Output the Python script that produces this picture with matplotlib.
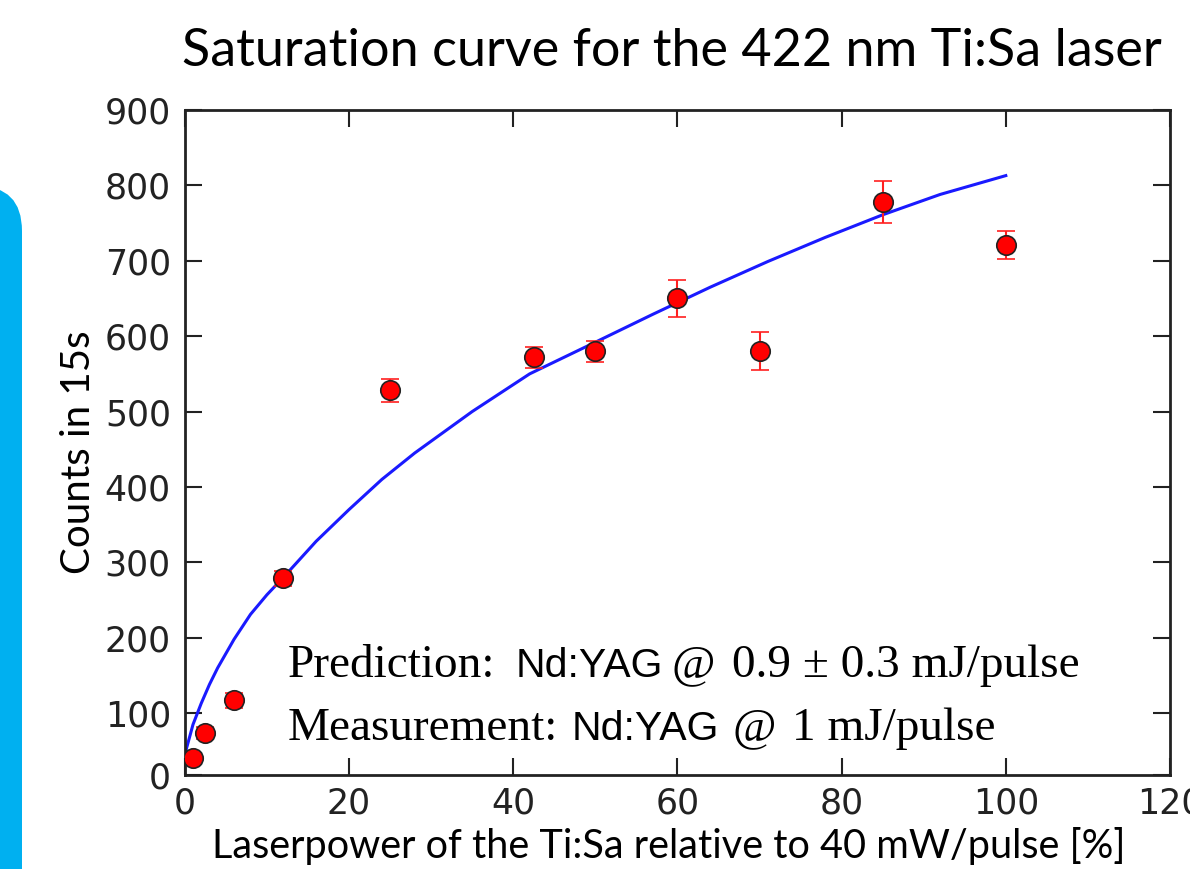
import matplotlib
matplotlib.use("Agg")
import matplotlib.pyplot as plt
from matplotlib.patches import FancyBboxPatch
from matplotlib.transforms import IdentityTransform

# measured points
power = [1, 2.4, 6, 12, 25, 42.5, 50, 60, 70, 85, 100]
counts = [41, 74, 117, 279, 528, 572, 580, 650, 580, 778, 721]
count_err = [6, 8, 10, 10, 15, 14, 14, 25, 25, 28, 19]

# fitted saturation curve
fit_x = [0, 1, 2, 3, 4, 6, 8, 10, 12, 16, 20, 24, 28, 35, 42, 50, 57, 64, 71, 78, 85, 92, 100]
fit_y = [45, 85, 113, 138, 160, 198, 231, 257, 280, 328, 370, 410, 445, 500, 550, 592, 629, 665, 699, 731, 761, 788, 813]

y_ticks = [18, 100, 200, 300, 400, 500, 600, 700, 800, 900]
y_ticklabels = ['0', '100', '200', '300', '400', '500', '600', '700', '800', '900']
x_ticks = [0, 20, 40, 60, 80, 100, 120]

fig = plt.figure(figsize=(11.9, 8.69), dpi=100)
ax = fig.add_axes([0.1553, 0.1082, 0.8279, 0.7652])

ax.plot(fit_x, fit_y, color='#1a1aff', lw=2.2, zorder=2)
ax.errorbar(power, counts, yerr=count_err, fmt='o', color='red', ecolor='#ff2020',
            elinewidth=1.5, capsize=6.5, capthick=1.5, markersize=14,
            markeredgecolor='#222222', markeredgewidth=1.2, zorder=3)

ax.set_xlim(0, 120)
ax.set_ylim(18, 900)
ax.set_xticks(x_ticks)
ax.set_yticks(y_ticks)
ax.set_yticklabels(y_ticklabels)
ax.tick_params(direction='in', top=True, right=True, length=12, width=1.5,
               labelsize=25, colors='#222222', labelcolor='#222222')
ax.tick_params(axis='y', pad=10)
ax.tick_params(axis='x', pad=8)
for s in ax.spines.values():
    s.set_linewidth(2)
    s.set_color('#222222')

# annotation, serif with sans pieces
serif = dict(family='Liberation Serif', fontsize=34, transform=ax.transAxes, va='baseline', ha='left')
sans = dict(family='Liberation Sans', fontsize=29.5, transform=ax.transAxes, va='baseline', ha='left')
ax.text(0.104, 0.147, 'Prediction:', **serif)
ax.text(0.336, 0.147, 'Nd:YAG', **sans)
ax.text(0.494, 0.147, '@', **serif)
ax.text(0.555, 0.147, '0.9 ± 0.3 mJ/pulse', **serif)
ax.text(0.104, 0.053, 'Measurement:', **serif)
ax.text(0.393, 0.053, 'Nd:YAG', **sans)
ax.text(0.556, 0.053, '@', **serif)
ax.text(0.616, 0.053, '1 mJ/pulse', **serif)

fig.text(0.5643, 0.924, 'Saturation curve for the 422 nm Ti:Sa laser', family='Lato',
         fontsize=37.5, ha='center', va='baseline')
fig.text(0.562, 0.0127, 'Laserpower of the Ti:Sa relative to 40 mW/pulse [%]', family='Lato',
         fontsize=28.5, ha='center', va='baseline')
fig.text(0.066, 0.48, 'Counts in 15s', family='Lato', fontsize=29, rotation=90,
         ha='center', va='center')

# slide decoration on the left edge
deco = FancyBboxPatch((-60, -60), 82, 869 - 186 + 60, boxstyle='round,pad=0,rounding_size=45',
                      transform=IdentityTransform(), facecolor='#00b0f0', edgecolor='none')
fig.patches.append(deco)

fig.savefig('out.png', dpi=100)
